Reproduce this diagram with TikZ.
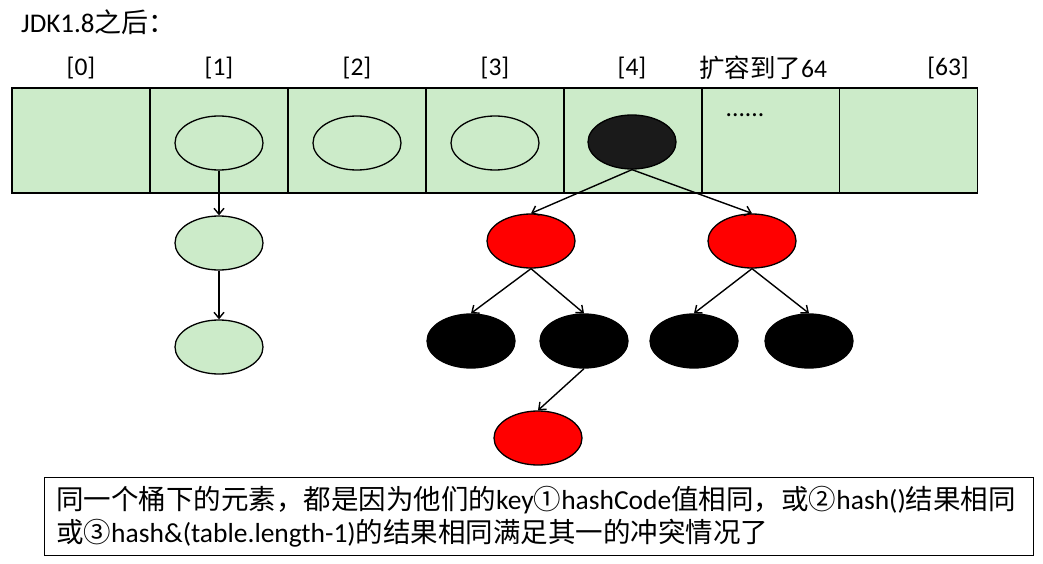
\documentclass[tikz,border=0pt]{standalone}
\usepackage{fontspec}
\setmainfont{Carlito}
\newfontfamily\cjk{Noto Sans CJK SC}
\usetikzlibrary{shapes.geometric,arrows.meta}
\definecolor{lgreen}{RGB}{204,235,201}
\definecolor{nblack}{RGB}{26,26,26}
\definecolor{nred}{RGB}{255,0,0}
\begin{document}
\begin{tikzpicture}[x=1pt,y=-1pt,
 cell/.style={draw,line width=1.6pt,fill=lgreen,minimum width=138pt,minimum height=105pt,inner sep=0pt},
 elg/.style={ellipse,draw,line width=1.3pt,fill=lgreen,minimum width=88pt,minimum height=54pt,inner sep=0pt},
 ered/.style={elg,fill=nred},
 eblk/.style={elg,fill=black},
 lab/.style={font=\fontsize{25.5}{30}\selectfont,inner sep=0pt},
 txt/.style={font=\fontsize{27.5}{33}\selectfont,inner sep=0pt,anchor=base west},
 arr/.style={-{Straight Barb[length=6pt,width=10pt]},line width=1.4pt}]
\useasboundingbox (0,0) rectangle (1043,564);
\fill[white] (0,0) rectangle (1043,564);
% title
\node[lab,font=\fontsize{27}{32}\selectfont,anchor=base west] (title) at (21,33) {JDK1.8{\cjk 之后：}};
% array cells
\node[cell] (c0) at (81,140.5) {};
\node[cell] (c1) at (219,140.5) {};
\node[cell] (c2) at (357,140.5) {};
\node[cell] (c3) at (495,140.5) {};
\node[cell] (c4) at (633,140.5) {};
\node[cell] (c5) at (771,140.5) {};
\node[cell] (c6) at (908.5,140.5) {};
% labels
\node[lab] (l0) at (81,68) {[0]};
\node[lab] (l1) at (219,68) {[1]};
\node[lab] (l2) at (357,68) {[2]};
\node[lab] (l3) at (495,68) {[3]};
\node[lab] (l4) at (632,68) {[4]};
\node[lab] (l5) at (763,68) {{\cjk 扩容到了}64};
\node[lab] (l6) at (948,68) {[63]};
\node[lab] (dots) at (745,115) {......};
% bucket nodes
\node[elg] (n1) at (219,143) {};
\node[elg] (n2) at (357,143) {};
\node[elg] (n3) at (495,143) {};
\node[elg,fill=nblack] (n4) at (632,142) {};
% chain
\node[elg] (k1) at (219,243) {};
\node[elg] (k2) at (219,347) {};
% tree
\node[ered] (r1) at (531,241) {};
\node[ered] (r2) at (752,241) {};
\node[eblk] (b1) at (471,341) {};
\node[eblk] (b2) at (584,341) {};
\node[eblk] (b3) at (694,341) {};
\node[eblk] (b4) at (809,341) {};
\node[ered] (r3) at (538,438) {};
% connectors
\draw[arr] (n1.south) -- (k1.north);
\draw[arr] (k1.south) -- (k2.north);
\draw[arr] (n4.south) -- (r1.north);
\draw[arr] (n4.south) -- (r2.north);
\draw[arr] (r1.south) -- (b1.north);
\draw[arr] (r1.south) -- (b2.north);
\draw[arr] (r2.south) -- (b3.north);
\draw[arr] (r2.south) -- (b4.north);
\draw[arr] (b2.south) -- (r3.north);
% text box
\node[draw,line width=1pt,minimum width=989pt,minimum height=78pt,inner sep=0pt,anchor=north west] (box) at (44,477) {};
\node[txt] (t1) at (56,509) {{\cjk 同一个桶下的元素，都是因为他们的}key{\cjk ①}hashCode{\cjk 值相同，或②}hash(){\cjk 结果相同}};
\node[txt] (t2) at (56,542) {{\cjk 或③}hash\&(table.length-1){\cjk 的结果相同满足其一的冲突情况了}};
\end{tikzpicture}
\end{document}
